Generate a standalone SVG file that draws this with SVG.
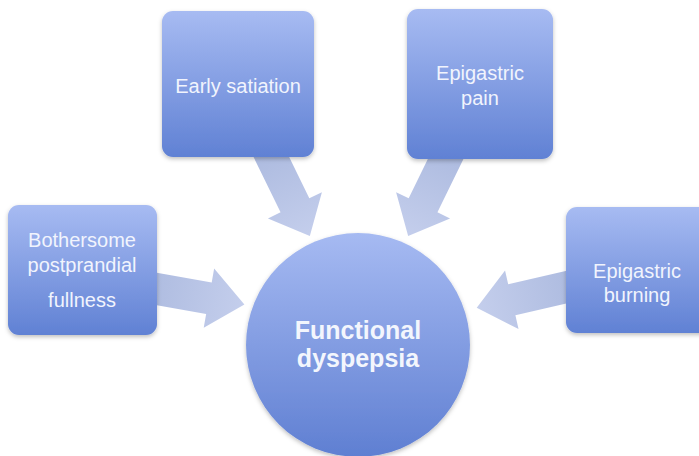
<svg xmlns="http://www.w3.org/2000/svg" width="699" height="456" viewBox="0 0 699 456">
<defs>
<linearGradient id="boxGrad" x1="0" y1="0" x2="0" y2="1">
<stop offset="0" stop-color="#a7bbf2"/>
<stop offset="1" stop-color="#6081d4"/>
</linearGradient>
<linearGradient id="circGrad" x1="0" y1="0" x2="0" y2="1">
<stop offset="0" stop-color="#a6baf2"/>
<stop offset="1" stop-color="#5f7fd2"/>
</linearGradient>
<linearGradient id="arrowGrad" x1="0" y1="0" x2="1" y2="0">
<stop offset="0" stop-color="#acbadf"/>
<stop offset="1" stop-color="#c4ceec"/>
</linearGradient>
<filter id="shadow" x="-20%" y="-20%" width="140%" height="140%">
<feDropShadow dx="0" dy="2" stdDeviation="2" flood-color="#000" flood-opacity="0.25"/>
</filter>
</defs>
<style>
.box{fill:url(#boxGrad);filter:url(#shadow);}
.circ{fill:url(#circGrad);filter:url(#shadow);}
.arrow{fill:url(#arrowGrad);}
.lbl{font-family:"Liberation Sans",Arial,sans-serif;font-size:20px;fill:#f1f4fd;text-anchor:middle;}
.big{font-family:"Liberation Sans",Arial,sans-serif;font-size:25px;font-weight:bold;fill:#f3f6fd;text-anchor:middle;}
</style>
<g id="connectors">
<g transform="translate(266,146) rotate(64)">
<polygon class="arrow" points="0,-16 66,-16 66,-30 100,0 66,30 66,16 0,16"/>
</g>
<g transform="translate(452,146) rotate(116)">
<polygon class="arrow" points="0,-16 66,-16 66,-30 100,0 66,30 66,16 0,16"/>
</g>
<g transform="translate(140,286) rotate(10)">
<polygon class="arrow" points="0,-16 70,-16 70,-30 106,0 70,30 70,16 0,16"/>
</g>
<g transform="translate(580,284) rotate(167)">
<polygon class="arrow" points="0,-16 70,-16 70,-30 106,0 70,30 70,16 0,16"/>
</g>
</g>
<g id="node-early">
<rect class="box" x="162" y="11" width="152" height="146" rx="11"/>
<text class="lbl" x="238" y="93">Early satiation</text>
</g>
<g id="node-pain">
<rect class="box" x="407" y="9" width="146" height="150" rx="11"/>
<text class="lbl" x="480" y="80">Epigastric</text>
<text class="lbl" x="480" y="105">pain</text>
</g>
<g id="node-bothersome">
<rect class="box" x="8" y="205" width="149" height="130" rx="11"/>
<text class="lbl" x="82" y="247">Bothersome</text>
<text class="lbl" x="82" y="272">postprandial</text>
<text class="lbl" x="82" y="307">fullness</text>
</g>
<g id="node-burning">
<rect class="box" x="566" y="207" width="150" height="126" rx="11"/>
<text class="lbl" x="637" y="278">Epigastric</text>
<text class="lbl" x="637" y="302">burning</text>
</g>
<g id="node-center">
<circle class="circ" cx="358" cy="345" r="112"/>
<text class="big" x="358" y="339">Functional</text>
<text class="big" x="358" y="367">dyspepsia</text>
</g>
</svg>
